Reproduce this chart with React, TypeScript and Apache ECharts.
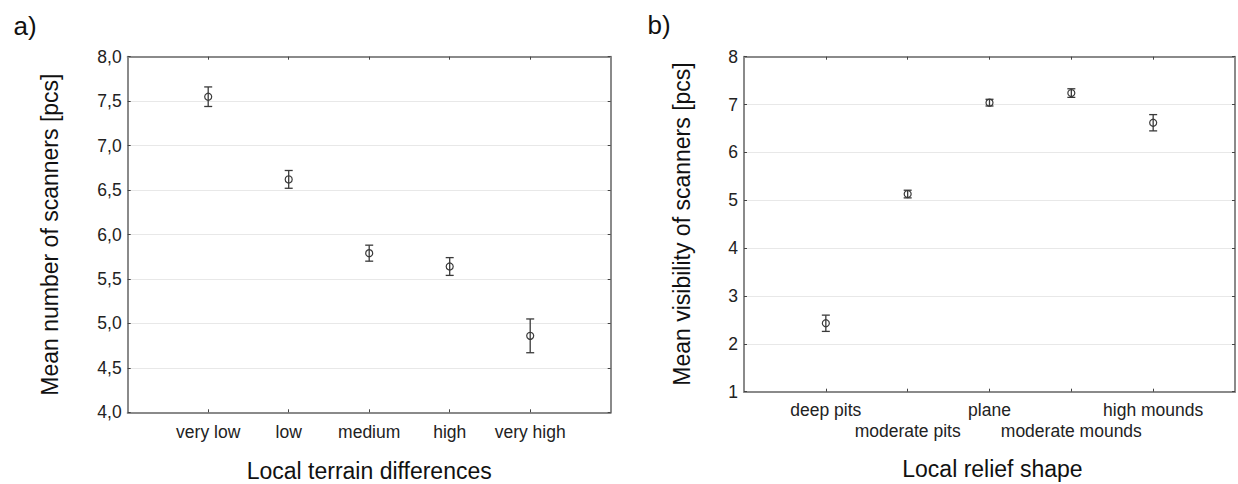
import React, { useEffect, useRef } from "react";
import * as echarts from "echarts";

const catsA = ["very low", "low", "medium", "high", "very high"];
const meansA = [7.55, 6.62, 5.79, 5.64, 4.86];
const errA = [0.11, 0.1, 0.09, 0.1, 0.19];

const catsB = ["deep pits", "moderate pits", "plane", "moderate mounds", "high mounds"];
const meansB = [2.43, 5.13, 7.04, 7.24, 6.62];
const errB = [0.17, 0.08, 0.07, 0.09, 0.17];

const yMinA = 4;
const yMaxA = 8;
const yStepA = 0.5;
const yMinB = 1;
const yMaxB = 8;
const yStepB = 1;

const titleA = "Local terrain differences";
const titleB = "Local relief shape";
const yTitleA = "Mean number of scanners [pcs]";
const yTitleB = "Mean visibility of scanners [pcs]";

const FONT = "'Liberation Sans', Arial, sans-serif";
const FRAME = "#8a8a8a";
const INK = "#3a3a3a";

function errorBarSeries(xIdx: number, yIdx: number, means: number[], errs: number[]) {
  return {
    type: "custom",
    xAxisIndex: xIdx,
    yAxisIndex: yIdx,
    encode: { x: 0, y: [1, 2] },
    data: means.map((m, i) => [i + 1, m - errs[i], m + errs[i]]),
    renderItem: (params: any, api: any) => {
      const x = api.value(0);
      const lo = api.coord([x, api.value(1)]);
      const hi = api.coord([x, api.value(2)]);
      const w = 4;
      const style = { stroke: INK, lineWidth: 1.3 };
      return {
        type: "group",
        children: [
          { type: "line", shape: { x1: hi[0], y1: hi[1], x2: lo[0], y2: lo[1] }, style },
          { type: "line", shape: { x1: hi[0] - w, y1: hi[1], x2: hi[0] + w, y2: hi[1] }, style },
          { type: "line", shape: { x1: lo[0] - w, y1: lo[1], x2: lo[0] + w, y2: lo[1] }, style },
        ],
      };
    },
    z: 3,
  };
}

function pointSeries(xIdx: number, yIdx: number, means: number[]) {
  return {
    type: "scatter",
    xAxisIndex: xIdx,
    yAxisIndex: yIdx,
    data: means.map((m, i) => [i + 1, m]),
    symbol: "circle",
    symbolSize: 7,
    itemStyle: { color: "none", borderColor: INK, borderWidth: 1.2, opacity: 1 },
    z: 4,
  };
}

function xAxes(gridIndex: number, cats: string[], twoRows: boolean, margin: number) {
  const data = ["", ...cats, ""];
  const tickInt = (i: number) => i > 0 && i < data.length - 1;
  const base = {
    gridIndex,
    type: "category",
    data,
    boundaryGap: false,
    axisLine: { show: true, lineStyle: { color: FRAME, width: 2 } },
    axisTick: { show: true, inside: true, length: 3, interval: tickInt, lineStyle: { color: "#444", width: 1 } },
    splitLine: { show: false },
  };
  return [
    {
      ...base,
      position: "bottom",
      axisLabel: {
        interval: 0,
        margin,
        fontFamily: FONT,
        fontSize: 17.5,
        color: "#222",
        lineHeight: 21,
        verticalAlign: "top",
        formatter: (v: string, i: number) => (twoRows && i % 2 === 0 && v ? "\n" + v : v),
      },
    },
    { ...base, position: "top", axisLabel: { show: false } },
  ];
}

function yAxes(gridIndex: number, min: number, max: number, interval: number, fmt: (v: number) => string) {
  const base = {
    gridIndex,
    type: "value",
    min,
    max,
    interval,
    axisLine: { show: true, lineStyle: { color: FRAME, width: 2 } },
    axisTick: { show: true, inside: true, length: 3, lineStyle: { color: "#444", width: 1 } },
  };
  return [
    {
      ...base,
      position: "left",
      splitLine: { show: true, lineStyle: { color: "#e8e8e8", width: 1 } },
      axisLabel: { margin: 6, fontFamily: FONT, fontSize: 17.5, color: "#222", formatter: fmt },
    },
    { ...base, position: "right", splitLine: { show: false }, axisLabel: { show: false } },
  ];
}

export default function App() {
  const ref = useRef<HTMLDivElement>(null);
  useEffect(() => {
    if (!ref.current) return;
    const chart = echarts.init(ref.current, null, { renderer: "svg" });
    const txt = (text: string, x: number, y: number, size: number, rotate = 0) => ({
      type: "text",
      x,
      y,
      rotation: rotate,
      style: {
        text,
        fontFamily: FONT,
        fontSize: size,
        fill: "#111",
        textAlign: "center",
        textVerticalAlign: "middle",
      },
    });
    chart.setOption({
      animation: false,
      backgroundColor: "#ffffff",
      grid: [
        { left: 127.7, top: 56.7, width: 483, height: 355.6, containLabel: false },
        { left: 744, top: 56.7, width: 496.8, height: 335, containLabel: false },
      ],
      xAxis: [...xAxes(0, catsA, false, 9), ...xAxes(1, catsB, true, 8)],
      yAxis: [
        ...yAxes(0, yMinA, yMaxA, yStepA, (v: number) => v.toFixed(1).replace(".", ",")),
        ...yAxes(1, yMinB, yMaxB, yStepB, (v: number) => String(v)),
      ],
      series: [
        errorBarSeries(0, 0, meansA, errA),
        pointSeries(0, 0, meansA),
        errorBarSeries(2, 2, meansB, errB),
        pointSeries(2, 2, meansB),
      ],
      graphic: [
        txt("a)", 25, 26, 26),
        txt("b)", 659, 25, 26),
        txt(titleA, 369.2, 471, 23),
        txt(titleB, 992.4, 469, 23),
        txt(yTitleA, 50, 234.6, 23, Math.PI / 2),
        txt(yTitleB, 682, 224, 23, Math.PI / 2),
      ],
    });
    return () => chart.dispose();
  }, []);
  return (
    <div
      ref={ref}
      style={{ position: "fixed", left: 0, top: 0, width: 1238, height: 484, background: "#fff" }}
    />
  );
}
